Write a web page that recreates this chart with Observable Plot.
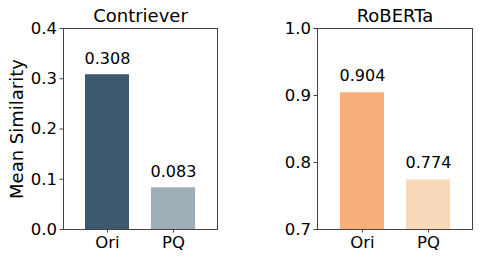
<!DOCTYPE html>
<html>
<head>
<meta charset="utf-8">
<script src="https://cdn.jsdelivr.net/npm/d3@7"></script>
<script src="https://cdn.jsdelivr.net/npm/@observablehq/plot@0.6"></script>
<style>
  html, body { margin: 0; padding: 0; background: #fff; }
  #wrap { display: flex; width: 483px; height: 261px; font-family: "DejaVu Sans", sans-serif; }
  #wrap svg { display: block; }
</style>
</head>
<body>
<div id="wrap"></div>
<script>
const categories = ["Ori", "PQ"];
const contrieverValues = [0.308, 0.083];
const robertaValues = [0.904, 0.774];
const contrieverColors = ["#3e5a6e", "#9eaeb6"];
const robertaColors = ["#f7ae78", "#f8d8b9"];
const contrieverTicks = [0, 0.1, 0.2, 0.3, 0.4];
const robertaTicks = [0.7, 0.8, 0.9, 1.0];

const contrieverData = categories.map((c, i) => ({cat: c, value: contrieverValues[i], color: contrieverColors[i]}));
const robertaData = categories.map((c, i) => ({cat: c, value: robertaValues[i], color: robertaColors[i]}));

function panel({data, title, domain, ticks, width, marginLeft, marginRight, ylabel, labelDy}) {
  return Plot.plot({
    width, height: 261,
    marginLeft, marginRight, marginTop: 28, marginBottom: 32,
    style: {fontFamily: "DejaVu Sans, sans-serif", background: "#fff", color: "#000", fontSize: "16px"},
    x: {domain: categories, padding: 1/3},
    y: {domain},
    color: {type: "identity"},
    marks: [
      Plot.barY(data, {x: "cat", y1: domain[0], y2: "value", fill: "color"}),
      Plot.frame({stroke: "#444", strokeWidth: 1}),
      Plot.axisY({ticks, tickFormat: ".1f", tickSize: 3.5, tickPadding: 3, fontSize: 16.5, label: null, stroke: "#444"}),
      Plot.axisX({tickSize: 3.5, tickPadding: 3, fontSize: 16.5, label: null, stroke: "#444"}),
      Plot.text(data, {x: "cat", y: "value", text: d => d.value.toFixed(3), dy: labelDy, fontSize: 16, fill: "#000"}),
      Plot.text([title], {frameAnchor: "top", lineAnchor: "middle", dy: -12, fontSize: 18, fill: "#000"}),
      ...(ylabel ? [Plot.text([ylabel], {frameAnchor: "left", textAnchor: "middle", rotate: -90, dx: -46, fontSize: 18, fill: "#000"})] : [])
    ]
  });
}

const wrap = document.getElementById("wrap");
wrap.appendChild(panel({data: contrieverData, title: "Contriever", domain: [0, 0.4], ticks: contrieverTicks, width: 240, marginLeft: 63, marginRight: 23, ylabel: "Mean Similarity", labelDy: -16}));
wrap.appendChild(panel({data: robertaData, title: "RoBERTa", domain: [0.7, 1.0], ticks: robertaTicks, width: 243, marginLeft: 77, marginRight: 11, ylabel: null, labelDy: -17}));
</script>
</body>
</html>
